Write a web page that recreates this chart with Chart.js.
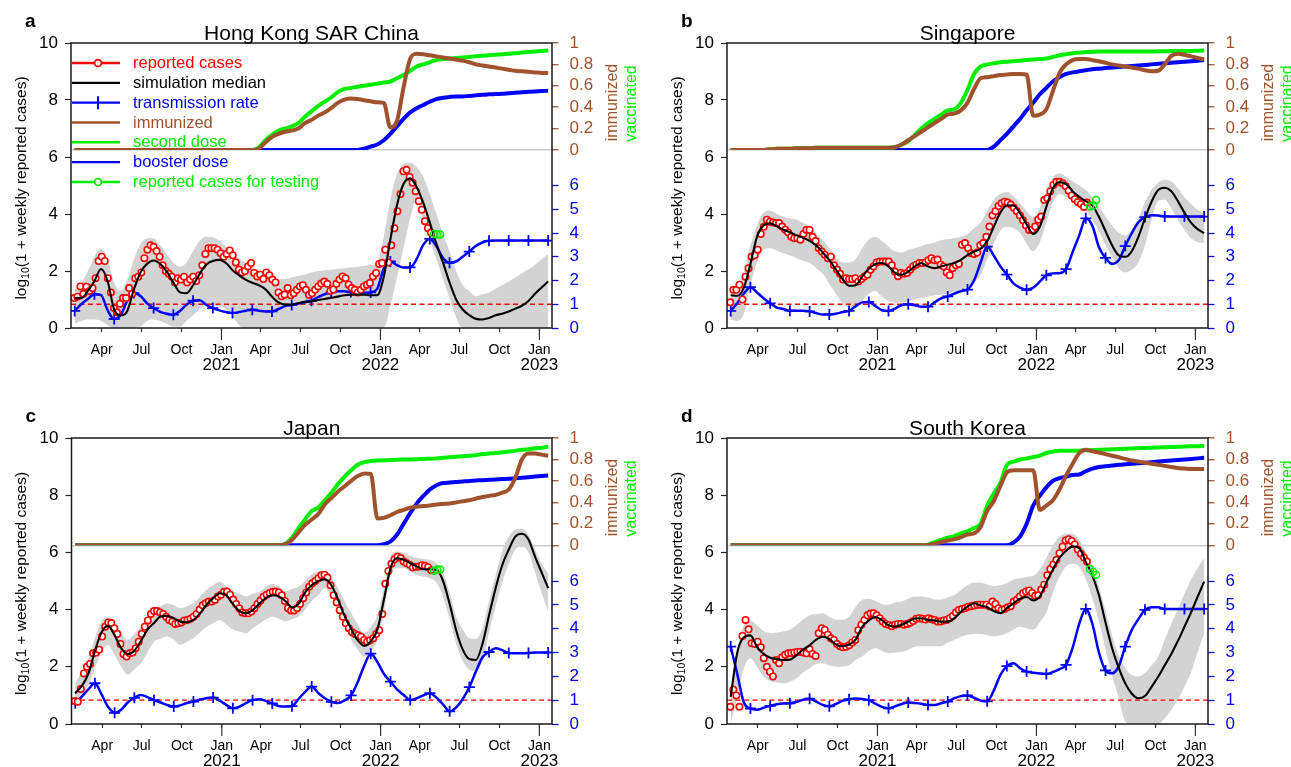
<!DOCTYPE html>
<html><head><meta charset="utf-8">
<script src="https://cdn.jsdelivr.net/npm/chart.js@4.4.1/dist/chart.umd.min.js"></script>
<style>
html,body{margin:0;padding:0;background:#fff;}
#wrap{position:relative;width:1291px;height:767px;overflow:hidden;background:#fff;}
canvas{position:absolute;}
</style></head><body>
<div id="wrap">
<canvas id="cA" width="645" height="395" style="left:0px;top:0px"></canvas>
<canvas id="cB" width="646" height="395" style="left:645px;top:0px"></canvas>
<canvas id="cC" width="645" height="372" style="left:0px;top:395px"></canvas>
<canvas id="cD" width="646" height="372" style="left:645px;top:395px"></canvas>
</div>
<script>
// ---------------- axis / time data ----------------
const xMinDay = 20.5, xMaxDay = 1125;               // days since 2020-01-01
const monthTickDays = [91,182,274,366,456,547,639,731,821,912,1004,1096];
const monthTickLabels = ['Apr','Jul','Oct','Jan','Apr','Jul','Oct','Jan','Apr','Jul','Oct','Jan'];
const yearTickDays = [366,731,1096];
const yearLabels = ['2021','2022','2023'];
const leftTicks = [0,2,4,6,8,10];
const immunizedTicks = [0,0.2,0.4,0.6,0.8,1];
const immunizedTickLabels = ['0','0.2','0.4','0.6','0.8','1'];
const rateTicks = [0,1,2,3,4,5,6];
const rateThreshold = 1;
const reportedStartDay = 28, reportedStepDays = 7;   // weekly reports
const modelStartDay = 29, modelStepDays = 15.1;      // model output grid
const panelTitles = ['Hong Kong SAR China','Singapore','Japan','South Korea'];
const panelLetters = ['a','b','c','d'];

// ---------------- Hong Kong ----------------
const hkReported = [1.05,1.1,1.46,1.2,1.45,1.3,1.4,1.75,2.35,2.5,
 2.35,1.75,1.25,0.7,0.55,0.85,1.05,1.05,1.4,1.2,
 1.75,1.8,1.95,2.45,2.75,2.9,2.85,2.7,2.5,2.2,
 2.0,1.9,1.8,1.6,1.75,1.7,1.8,1.6,1.7,1.8,
 1.65,1.85,2.2,2.6,2.8,2.8,2.8,2.75,2.62,2.5,
 2.6,2.72,2.55,2.3,2.05,1.95,2.0,2.16,2.28,1.93,
 1.81,1.87,1.72,1.95,1.85,1.7,1.6,1.25,1.11,1.17,
 1.4,1.15,1.22,1.34,1.46,1.5,1.34,1.17,1.22,1.34,
 1.46,1.56,1.63,1.55,1.3,1.35,1.55,1.7,1.81,1.75,
 1.52,1.4,1.34,1.25,1.34,1.46,1.52,1.58,1.81,1.93,
 2.25,2.28,2.75,2.3,2.9,3.5,4.1,4.7,5.5,5.55,
 5.3,5.1,4.8,4.45,4.15,3.75,3.5,3.35];
const hkTesting = [3.3,3.28,3.28];
const hkMedian = [1.05,1.05,1.3,1.65,2.07,1.65,0.65,0.45,0.6,1.35,
 1.95,2.25,2.37,2.25,1.98,1.6,1.25,1.22,1.5,1.9,
 2.22,2.35,2.39,2.28,2.03,1.85,1.7,1.59,1.5,1.36,
 1.1,0.9,0.82,0.82,0.87,0.92,0.93,0.98,1.02,1.06,
 1.1,1.15,1.17,1.17,1.17,1.15,1.15,1.8,3.1,4.3,
 5.05,5.25,4.95,4.4,3.7,2.95,2.3,1.6,1.0,0.65,
 0.45,0.32,0.3,0.35,0.45,0.5,0.58,0.68,0.78,0.95,
 1.2,1.42,1.63];
const hkLower = [0.15,0.25,0.3,0.3,0.25,0.1,0,0,0,0,
 0.05,0.25,0.3,0.25,0.15,0.05,0.05,0.25,0.45,0.65,
 0.8,0.8,0.75,0.65,0.4,0.1,0,0,0,0,
 0,0,0,0,0,0,0,0,0,0,
 0,0,0,0,0,0,0,0,0.78,1.76,
 2.8,3.83,4.5,3.77,3.08,2.42,1.73,1.04,0.38,0,
 0,0,0,0,0,0,0,0,0,0,
 0,0,0];
const hkUpper = [1.35,1.6,2.0,2.5,2.8,2.4,1.6,1.3,1.7,2.4,
 2.95,3.15,3.15,2.9,2.6,2.3,2.15,2.3,2.7,3.05,
 3.2,3.18,3.05,2.85,2.65,2.45,2.28,2.12,2.02,1.92,
 1.82,1.72,1.72,1.78,1.83,1.88,1.95,2.0,2.02,2.05,
 2.08,2.1,2.12,2.15,2.18,2.2,2.3,3.2,4.5,5.4,
 5.75,5.8,5.65,5.3,4.7,4.0,3.3,2.7,2.0,1.5,
 1.3,1.11,1.18,1.25,1.38,1.5,1.62,1.78,1.92,2.06,
 2.22,2.42,2.6];
const hkRate = [0.72,1.0,1.22,1.42,1.38,0.75,0.38,0.55,1.15,1.47,
 1.35,1.04,0.84,0.68,0.6,0.56,0.72,0.98,1.15,1.17,
 0.98,0.84,0.74,0.67,0.63,0.67,0.73,0.77,0.73,0.7,
 0.7,0.8,0.92,0.97,1.03,1.08,1.15,1.3,1.42,1.5,
 1.55,1.55,1.52,1.48,1.47,1.5,1.65,2.5,2.8,2.65,
 2.55,2.55,2.9,3.5,3.75,3.45,2.95,2.75,2.8,3.0,
 3.22,3.45,3.6,3.67,3.68,3.68,3.68,3.68,3.68,3.68,
 3.68,3.68,3.68];
const hkImmunized = [0,0,0,0,0,0,0,0,0,0, 0,0,0,0,0,0,0,0,0,0, 0,0,0,0,0,0,0,0,
 0.01,0.07,0.12,0.15,0.17,0.18,0.2,0.25,0.28,0.32,
 0.35,0.39,0.44,0.47,0.48,0.475,0.465,0.455,0.445,0.44,
 0.21,0.27,0.58,0.85,0.9,0.895,0.885,0.875,0.865,0.855,
 0.845,0.835,0.82,0.8,0.79,0.78,0.77,0.76,0.75,0.74,
 0.735,0.73,0.725,0.72,0.72];
const hkSecondDose = [0,0,0,0,0,0,0,0,0,0, 0,0,0,0,0,0,0,0,0,0, 0,0,0,0,0,0,0,0,
 0.02,0.09,0.14,0.18,0.2,0.22,0.25,0.31,0.36,0.41,
 0.45,0.49,0.54,0.57,0.58,0.59,0.6,0.61,0.62,0.63,
 0.64,0.67,0.7,0.74,0.78,0.8,0.82,0.84,0.85,0.855,
 0.86,0.865,0.87,0.875,0.88,0.885,0.89,0.895,0.9,0.905,
 0.91,0.915,0.92,0.925,0.93];
const hkBooster = [0,0,0,0,0,0,0,0,0,0, 0,0,0,0,0,0,0,0,0,0, 0,0,0,0,0,0,0,0,0,0,
 0,0,0,0,0,0,0,0,0,0, 0,0,0,0,
 0.01,0.03,0.05,0.09,0.15,0.22,0.29,0.35,0.39,0.42,
 0.45,0.475,0.487,0.495,0.5,0.5,0.505,0.51,0.515,0.52,
 0.522,0.525,0.53,0.535,0.54,0.543,0.546,0.55,0.553];

// ---------------- Singapore ----------------
const sgReported = [0.9,1.34,1.34,1.52,1.0,1.8,2.1,2.5,2.55,2.75,
 3.3,3.55,3.8,3.73,3.7,3.68,3.68,3.56,3.45,3.35,
 3.2,3.15,3.15,3.1,3.3,3.44,3.44,3.2,3.05,2.8,
 2.68,2.57,2.45,2.5,2.2,2.05,1.9,1.7,1.75,1.72,
 1.72,1.75,1.63,1.72,1.81,1.87,2.04,2.16,2.3,2.33,
 2.33,2.33,2.33,2.2,1.98,1.82,1.93,1.9,1.93,2.04,
 2.16,2.22,2.28,2.28,2.3,2.38,2.45,2.38,2.4,2.22,
 2.16,1.95,1.85,2.1,2.2,2.25,2.92,2.98,2.8,2.62,
 2.6,2.65,2.9,2.98,3.2,3.56,3.95,4.1,4.28,4.38,
 4.43,4.4,4.33,4.22,4.1,3.95,3.78,3.6,3.44,3.45,
 3.56,3.8,3.91,4.49,4.55,4.8,5.02,5.13,5.13,5.08,
 4.98,4.82,4.65,4.52,4.42,4.35,4.25,4.4];
const sgTesting = [4.26,4.3,4.49];
const sgMedian = [1.15,1.13,1.42,2.25,3.2,3.6,3.67,3.57,3.45,3.36,
 3.25,3.17,3.06,2.9,2.65,2.38,2.05,1.72,1.48,1.5,
 1.8,2.08,2.24,2.28,2.16,1.93,1.87,1.98,2.16,2.28,
 2.16,2.1,2.16,2.22,2.28,2.39,2.56,2.68,2.78,3.05,
 3.55,4.05,4.3,4.3,4.03,3.64,3.3,3.55,4.25,4.9,
 5.12,5.05,4.8,4.6,4.45,4.3,3.9,3.4,2.9,2.55,
 2.5,2.7,3.2,3.85,4.43,4.84,4.92,4.8,4.45,4.05,
 3.7,3.47,3.33];
const sgLower = [0.3,0.25,0.5,1.5,2.3,2.75,2.8,2.72,2.62,2.55,
 2.45,2.35,2.28,2.1,1.9,1.55,1.2,0.88,0.72,0.7,
 0.95,1.2,1.3,1.1,0.95,0.88,0.9,0.93,1.0,1.05,
 1.1,1.15,1.17,1.2,1.28,1.35,1.45,1.6,1.85,2.4,
 2.95,3.4,3.55,3.5,3.33,2.95,2.7,3.0,3.7,4.4,
 4.7,4.6,4.5,4.3,4.1,3.8,3.4,2.9,2.5,2.1,
 1.95,2.05,2.3,2.9,3.8,4.45,4.5,4.2,3.8,3.45,
 3.15,3.02,2.98];
const sgUpper = [1.4,1.55,2.0,2.9,3.6,4.05,4.12,4.0,3.9,3.85,
 3.8,3.68,3.55,3.3,3.08,2.8,2.5,2.3,2.3,2.42,
 2.8,3.1,3.2,3.05,2.85,2.68,2.65,2.75,2.8,2.88,
 2.95,3.0,3.08,3.12,3.15,3.2,3.3,3.5,3.7,4.1,
 4.5,4.7,4.78,4.62,4.38,4.1,3.9,4.2,4.8,5.28,
 5.43,5.3,5.15,5.0,4.85,4.6,4.28,3.9,3.6,3.35,
 3.25,3.45,3.85,4.4,4.85,5.1,5.2,5.15,4.9,4.6,
 4.35,4.15,4.03];
const sgRate = [0.72,1.05,1.45,1.72,1.5,1.25,1.04,0.86,0.8,0.73,
 0.73,0.73,0.7,0.63,0.57,0.57,0.6,0.67,0.72,0.92,
 1.08,1.1,0.92,0.75,0.72,0.82,0.97,1.0,0.96,0.9,
 0.9,1.08,1.25,1.33,1.45,1.55,1.62,2.0,2.75,3.43,
 3.05,2.6,2.25,1.88,1.7,1.61,1.7,1.95,2.22,2.3,
 2.31,2.48,3.2,3.9,4.62,4.3,3.4,2.95,2.7,2.85,
 3.45,4.0,4.45,4.67,4.75,4.74,4.7,4.69,4.69,4.69,
 4.69,4.69,4.69];
const sgImmunized = [0,0,0,0,0,0,0.005,0.01,0.01,0.01,
 0.015,0.015,0.015,0.02,0.02,0.02,0.02,0.02,0.02,0.02,
 0.02,0.02,0.02,0.02,0.02,0.025,0.05,0.09,0.13,0.17,
 0.21,0.25,0.29,0.33,0.34,0.37,0.44,0.57,0.67,0.68,
 0.69,0.7,0.705,0.71,0.71,0.705,0.32,0.33,0.38,0.55,
 0.72,0.8,0.84,0.85,0.85,0.84,0.83,0.815,0.8,0.79,
 0.78,0.77,0.76,0.745,0.735,0.74,0.8,0.88,0.9,0.89,
 0.875,0.86,0.845];
const sgSecondDose = [0,0,0,0,0,0,0.005,0.01,0.01,0.01,
 0.015,0.015,0.015,0.02,0.02,0.02,0.02,0.02,0.02,0.02,
 0.02,0.02,0.02,0.02,0.02,0.025,0.05,0.08,0.14,0.2,
 0.25,0.29,0.33,0.37,0.38,0.44,0.56,0.71,0.78,0.8,
 0.81,0.82,0.825,0.83,0.835,0.84,0.845,0.85,0.855,0.87,
 0.885,0.895,0.905,0.91,0.915,0.918,0.92,0.92,0.92,0.92,
 0.92,0.92,0.92,0.92,0.92,0.922,0.922,0.924,0.924,0.926,
 0.926,0.928,0.93];
const sgBooster = [0,0,0,0,0,0,0,0,0,0, 0,0,0,0,0,0,0,0,0,0, 0,0,0,0,0,0,0,0,0,0,
 0,0,0,0,0,0,0,0,0,0,
 0.03,0.09,0.15,0.22,0.29,0.37,0.44,0.52,0.58,0.64,
 0.68,0.71,0.725,0.735,0.745,0.755,0.76,0.765,0.77,0.775,
 0.78,0.785,0.79,0.795,0.8,0.805,0.81,0.815,0.82,0.825,
 0.83,0.835,0.84];

// ---------------- Japan ----------------
const jpReported = [0.8,0.78,1.22,1.77,2.0,2.1,2.47,2.5,2.6,3.06,
 3.4,3.55,3.53,3.35,3.15,2.8,2.45,2.36,2.47,2.5,
 2.65,2.88,3.15,3.4,3.62,3.85,3.95,3.95,3.9,3.85,
 3.75,3.64,3.58,3.5,3.52,3.55,3.62,3.64,3.68,3.75,
 3.85,4.0,4.15,4.22,4.28,4.28,4.34,4.46,4.52,4.62,
 4.63,4.52,4.35,4.2,4.05,3.9,3.87,3.87,3.93,4.05,
 4.2,4.32,4.45,4.52,4.58,4.62,4.63,4.6,4.5,4.3,
 4.05,3.97,3.97,4.05,4.2,4.4,4.6,4.8,4.92,5.0,
 5.1,5.2,5.22,5.12,4.85,4.5,4.25,3.98,3.75,3.52,
 3.35,3.22,3.15,3.1,3.05,2.94,2.88,2.93,3.0,3.15,
 3.28,3.85,4.9,5.35,5.6,5.76,5.85,5.8,5.68,5.62,
 5.57,5.47,5.5,5.51,5.55,5.53,5.48,5.38];
const jpTesting = [5.36,5.4,5.4];
const jpMedian = [1.07,1.33,1.75,2.55,3.2,3.43,3.1,2.65,2.44,2.56,
 2.9,3.3,3.53,3.76,3.78,3.7,3.58,3.56,3.64,3.87,
 4.17,4.4,4.57,4.5,4.2,3.95,3.87,3.98,4.2,4.4,
 4.5,4.46,4.3,4.07,4.2,4.6,4.85,5.0,5.06,4.85,
 4.36,3.78,3.33,2.93,2.73,2.9,3.3,4.35,5.45,5.8,
 5.74,5.62,5.51,5.41,5.41,5.39,5.0,4.2,3.27,2.6,
 2.27,2.24,2.8,3.8,4.75,5.55,6.1,6.55,6.65,6.45,
 5.85,5.3,4.75];
const jpLower = [0.8,1.05,1.35,1.95,2.5,2.75,2.4,2.0,1.72,1.9,
 2.12,2.5,2.88,2.98,3.06,2.95,2.77,2.88,3.0,3.2,
 3.4,3.52,3.64,3.48,3.3,3.23,3.17,3.35,3.5,3.65,
 3.75,3.68,3.58,3.66,3.76,4.0,4.3,4.5,4.75,4.45,
 4.0,3.45,2.95,2.6,2.36,2.55,2.95,3.9,5.2,5.45,
 5.45,5.35,5.22,5.15,5.1,4.95,4.45,3.65,2.8,2.2,
 1.9,1.85,2.2,3.2,4.1,4.95,5.6,6.1,6.2,6.0,
 5.3,4.6,3.9];
const jpUpper = [1.42,1.85,2.3,3.0,3.6,3.74,3.45,3.2,2.94,3.15,
 3.4,3.7,3.99,4.12,4.22,4.15,4.05,4.12,4.22,4.45,
 4.69,4.85,4.98,4.82,4.64,4.55,4.46,4.55,4.62,4.78,
 4.9,4.78,4.64,4.72,4.8,5.0,5.24,5.33,5.35,5.1,
 4.75,4.3,3.87,3.5,3.17,3.4,3.8,4.8,5.85,6.03,
 5.98,5.88,5.8,5.77,5.74,5.62,5.3,4.6,3.75,3.3,
 3.0,2.98,3.35,4.3,5.2,6.05,6.55,6.8,6.83,6.6,
 6.1,5.6,5.27];
const jpRate = [0.87,1.15,1.45,1.71,1.25,0.72,0.47,0.6,0.9,1.1,
 1.22,1.13,1.0,0.9,0.8,0.73,0.78,0.88,0.94,1.03,
 1.08,1.11,0.98,0.8,0.66,0.73,0.88,1.0,1.04,0.97,
 0.86,0.75,0.73,0.75,1.05,1.35,1.57,1.3,1.08,0.93,
 0.88,0.99,1.2,1.75,2.45,2.95,2.6,2.1,1.78,1.45,
 1.22,1.01,1.08,1.2,1.29,1.1,0.82,0.53,0.7,1.05,
 1.55,2.2,2.8,3.02,3.18,3.1,2.98,2.97,2.97,2.98,
 3.0,3.0,3.0];
const jpImmunized = [0,0,0,0,0,0,0,0,0,0, 0,0,0,0,0,0,0,0,0,0, 0,0,0,0,0,0,0,0,0,0, 0,0,
 0.01,0.05,0.12,0.19,0.24,0.29,0.38,0.44,0.5,0.55,
 0.6,0.645,0.67,0.665,0.25,0.255,0.28,0.31,0.33,0.35,
 0.36,0.365,0.37,0.38,0.385,0.39,0.4,0.41,0.42,0.435,
 0.45,0.46,0.47,0.49,0.52,0.63,0.8,0.855,0.855,0.845,
 0.835];
const jpSecondDose = [0,0,0,0,0,0,0,0,0,0, 0,0,0,0,0,0,0,0,0,0, 0,0,0,0,0,0,0,0,0,0, 0,0,
 0.015,0.07,0.16,0.24,0.32,0.35,0.42,0.49,0.57,0.64,
 0.7,0.75,0.775,0.785,0.79,0.792,0.795,0.797,0.8,0.8,
 0.802,0.805,0.807,0.81,0.815,0.82,0.825,0.83,0.835,0.84,
 0.85,0.855,0.86,0.867,0.875,0.88,0.89,0.895,0.905,0.91,
 0.92];
const jpBooster = [0,0,0,0,0,0,0,0,0,0, 0,0,0,0,0,0,0,0,0,0, 0,0,0,0,0,0,0,0,0,0,
 0,0,0,0,0,0,0,0,0,0, 0,0,0,0,0,0,0,
 0.01,0.035,0.1,0.2,0.3,0.39,0.46,0.52,0.56,0.58,
 0.585,0.59,0.595,0.6,0.603,0.607,0.61,0.613,0.617,0.62,
 0.625,0.63,0.635,0.64,0.645,0.65];

// ---------------- South Korea ----------------
const krReported = [0.6,1.2,1.0,0.6,3.08,3.64,3.31,2.82,2.8,2.88,
 2.68,2.3,2.0,1.83,1.66,2.24,2.12,2.33,2.42,2.47,
 2.48,2.5,2.52,2.53,2.5,2.47,2.62,2.45,2.38,3.17,
 3.35,3.29,3.12,3.0,2.94,2.8,2.72,2.68,2.7,2.75,
 2.85,2.94,3.28,3.47,3.64,3.8,3.86,3.87,3.8,3.7,
 3.58,3.5,3.46,3.42,3.47,3.5,3.5,3.47,3.5,3.54,
 3.6,3.68,3.7,3.68,3.65,3.7,3.66,3.64,3.58,3.58,
 3.62,3.64,3.7,3.78,3.9,3.99,4.02,4.05,4.1,4.12,
 4.14,4.17,4.17,4.17,4.17,4.11,4.28,4.2,4.05,3.99,
 4.02,4.08,4.12,4.28,4.35,4.46,4.57,4.63,4.67,4.58,
 4.48,4.5,4.7,4.87,5.2,5.42,5.58,5.74,5.97,6.2,
 6.42,6.46,6.4,6.28,6.1,5.95,5.82,5.68];
const krTesting = [5.42,5.32,5.22];
const krMedian = [0.95,2.5,3.03,3.1,2.7,2.45,2.32,2.27,2.24,2.25,
 2.4,2.6,2.75,2.95,3.05,2.97,2.78,2.72,2.78,2.95,
 3.4,3.62,3.74,3.63,3.45,3.41,3.47,3.58,3.69,3.7,
 3.64,3.62,3.58,3.58,3.7,3.92,4.1,4.22,4.14,4.08,
 3.95,3.88,4.05,4.22,4.38,4.44,4.32,4.45,4.95,5.4,
 5.82,6.05,6.21,6.15,5.67,5.2,4.5,3.55,2.65,1.97,
 1.42,1.06,0.9,0.98,1.3,1.65,2.05,2.45,2.9,3.4,
 3.9,4.45,4.98];
const krLower = [0,0.95,1.95,2.3,2.0,1.65,1.5,1.45,1.42,1.48,
 1.6,1.8,1.95,2.1,2.12,2.05,2.0,2.0,2.05,2.25,
 2.36,2.55,2.65,2.55,2.47,2.5,2.53,2.6,2.7,2.72,
 2.72,2.72,2.72,2.85,2.95,3.05,3.12,3.15,3.15,3.1,
 3.06,3.1,3.17,3.3,3.4,3.35,3.3,3.55,3.9,4.6,
 5.15,5.5,5.6,5.5,5.05,4.4,3.6,2.6,1.7,0.9,
 0.1,0,0,0,0,0,0.2,0.5,0.85,1.3,
 1.8,2.5,3.17];
const krUpper = [0.9,2.6,3.45,3.62,3.45,3.25,3.18,3.2,3.23,3.3,
 3.45,3.65,3.8,3.85,3.87,3.75,3.65,3.65,3.75,4.1,
 4.34,4.38,4.3,4.2,4.17,4.25,4.28,4.38,4.46,4.46,
 4.42,4.36,4.35,4.42,4.5,4.68,4.85,4.95,4.95,4.88,
 4.82,4.85,4.92,5.05,5.1,5.15,5.18,5.4,5.8,6.25,
 6.55,6.65,6.65,6.45,6.0,5.5,4.8,3.95,3.1,2.4,
 1.95,1.72,1.66,1.78,2.05,2.35,2.95,3.5,4.0,4.55,
 5.05,5.45,5.8];
const krRate = [3.25,2.1,0.9,0.65,0.6,0.68,0.76,0.83,0.86,0.87,
 0.93,1.02,1.06,0.94,0.8,0.74,0.84,0.97,1.04,1.07,
 1.05,1.0,0.85,0.72,0.66,0.74,0.84,0.9,0.88,0.85,
 0.8,0.8,0.87,0.94,1.08,1.17,1.2,1.1,0.98,0.95,
 1.4,2.05,2.43,2.55,2.34,2.2,2.15,2.12,2.1,2.18,
 2.3,2.48,3.2,4.2,4.83,4.2,3.0,2.25,2.13,2.42,
 3.25,3.95,4.4,4.79,4.9,4.9,4.83,4.83,4.83,4.83,
 4.83,4.83,4.83];
const krImmunized = [0,0,0,0,0,0,0,0,0,0, 0,0,0,0,0,0,0,0,0,0, 0,0,0,0,0,0,0,0,0,0,
 0.003,0.015,0.03,0.045,0.055,0.075,0.1,0.11,0.17,0.32,
 0.41,0.55,0.68,0.7,0.7,0.7,0.7,0.33,0.37,0.42,
 0.52,0.65,0.76,0.86,0.89,0.875,0.865,0.85,0.835,0.82,
 0.805,0.79,0.78,0.77,0.76,0.75,0.74,0.73,0.72,0.715,
 0.71,0.71,0.71];
const krSecondDose = [0,0,0,0,0,0,0,0,0,0, 0,0,0,0,0,0,0,0,0,0, 0,0,0,0,0,0,0,0,0,0,
 0.005,0.03,0.05,0.07,0.085,0.11,0.13,0.16,0.2,0.37,
 0.48,0.58,0.75,0.78,0.8,0.81,0.82,0.835,0.86,0.875,
 0.88,0.88,0.88,0.882,0.885,0.887,0.89,0.892,0.895,0.897,
 0.9,0.902,0.905,0.907,0.91,0.912,0.914,0.916,0.918,0.92,
 0.922,0.924,0.926];
const krBooster = [0,0,0,0,0,0,0,0,0,0, 0,0,0,0,0,0,0,0,0,0, 0,0,0,0,0,0,0,0,0,0,
 0,0,0,0,0,0,0,0,0,0, 0,0,0,
 0.025,0.08,0.2,0.37,0.46,0.54,0.6,0.625,0.64,0.655,
 0.66,0.69,0.715,0.73,0.737,0.743,0.75,0.755,0.76,0.765,
 0.77,0.775,0.78,0.785,0.79,0.795,0.8,0.805,0.81,0.815];

// ---------------- styling ----------------
const FONT = "'Liberation Sans', Arial, Helvetica, sans-serif";
const RED = '#ff0000', BLUE = '#0000ff', GREEN = '#00ee00', SIENNA = '#a0522d', BAND = '#d3d3d3';
Chart.defaults.font.family = FONT;

const legendEntries = [
  {label:'reported cases', color:RED, marker:'circle'},
  {label:'simulation median', color:'#000000'},
  {label:'transmission rate', color:BLUE, marker:'cross'},
  {label:'immunized', color:SIENNA},
  {label:'second dose', color:GREEN},
  {label:'booster dose', color:BLUE},
  {label:'reported cases for testing', color:GREEN, marker:'circle'}
];

function modelSeries(values){ return values.map((v,i)=>({x: modelStartDay + modelStepDays*i, y: v})); }
function weeklySeries(values, offset){ return values.map((v,k)=>({x: reportedStartDay + reportedStepDays*(k+offset), y: v})); }

const decorPlugin = {
  id: 'decor',
  afterDraw(chart, args, o) {
    const {ctx, chartArea: a, scales} = chart;
    const xs = scales.x;
    ctx.save();
    // frame
    ctx.strokeStyle = '#1a1a1a'; ctx.lineWidth = 1.5;
    ctx.strokeRect(a.left, a.top, a.right - a.left, a.bottom - a.top);
    // long January ticks + year labels
    ctx.strokeStyle = '#333'; ctx.lineWidth = 1.2;
    yearTickDays.forEach(d => {
      const px = xs.getPixelForValue(d);
      ctx.beginPath(); ctx.moveTo(px, a.bottom); ctx.lineTo(px, a.bottom + 12); ctx.stroke();
    });
    ctx.fillStyle = '#000'; ctx.font = '17px ' + FONT; ctx.textAlign = 'center'; ctx.textBaseline = 'alphabetic';
    yearTickDays.forEach((d, i) => ctx.fillText(yearLabels[i], xs.getPixelForValue(d), a.bottom + 42.4));
    // title
    ctx.font = '21px ' + FONT;
    ctx.fillText(o.title, (a.left + a.right) / 2, a.top - 3.5);
    // panel letter
    ctx.font = 'bold 19px ' + FONT; ctx.textAlign = 'left';
    ctx.fillText(o.letter, a.left - 46, a.top - 16);
    // left axis title with subscript
    ctx.save();
    ctx.translate(a.left - 51, (a.top + a.bottom) / 2 + 2.5);
    ctx.rotate(-Math.PI / 2);
    const p1 = 'log', p2 = '10', p3 = '(1 + weekly reported cases)';
    ctx.font = '15.5px ' + FONT; const w1 = ctx.measureText(p1).width, w3 = ctx.measureText(p3).width;
    ctx.font = '10.5px ' + FONT; const w2 = ctx.measureText(p2).width;
    let x0 = -(w1 + w2 + w3) / 2;
    ctx.textAlign = 'left'; ctx.textBaseline = 'alphabetic'; ctx.fillStyle = '#000';
    ctx.font = '15.5px ' + FONT; ctx.fillText(p1, x0, 5.5); x0 += w1;
    ctx.font = '10.5px ' + FONT; ctx.fillText(p2, x0, 8.5); x0 += w2;
    ctx.font = '15.5px ' + FONT; ctx.fillText(p3, x0, 5.5);
    ctx.restore();
    // right axis titles
    [['immunized', SIENNA, 60.5, 59.5], ['vaccinated', GREEN, 79.5, 60.5]].forEach(([t, c, dx, dy]) => {
      ctx.save(); ctx.translate(a.right + dx, a.top + dy); ctx.rotate(-Math.PI / 2);
      ctx.fillStyle = c; ctx.font = '16px ' + FONT; ctx.textAlign = 'center'; ctx.textBaseline = 'middle';
      ctx.fillText(t, 0, 0); ctx.restore();
    });
    // legend
    if (o.legend) {
      legendEntries.forEach((e, j) => {
        const y = a.top + 20 + 19.83 * j;
        ctx.strokeStyle = e.color; ctx.lineWidth = 2.4;
        ctx.beginPath(); ctx.moveTo(a.left + 1, y); ctx.lineTo(a.left + 49, y); ctx.stroke();
        const mx = a.left + 27;
        if (e.marker === 'circle') {
          ctx.lineWidth = 1.7; ctx.fillStyle = '#fff';
          ctx.beginPath(); ctx.arc(mx, y, 3.4, 0, Math.PI * 2); ctx.fill(); ctx.stroke();
        } else if (e.marker === 'cross') {
          ctx.lineWidth = 2;
          ctx.beginPath(); ctx.moveTo(mx, y - 6.5); ctx.lineTo(mx, y + 6.5); ctx.stroke();
        }
        ctx.fillStyle = e.color; ctx.font = '16.5px ' + FONT; ctx.textAlign = 'left'; ctx.textBaseline = 'middle';
        ctx.fillText(e.label, a.left + 62, y + 0.5);
      });
    }
    ctx.restore();
  }
};

function buildPanel(id, box, s, deco) {
  const datasets = [
    {label:'band lower', data: modelSeries(s.lower), yAxisID:'y', borderWidth:0, borderColor:'rgba(0,0,0,0)', pointRadius:0, fill:false, cubicInterpolationMode:'monotone', order:100},
    {label:'band upper', data: modelSeries(s.upper), yAxisID:'y', borderWidth:0, borderColor:'rgba(0,0,0,0)', pointRadius:0, fill:'-1', backgroundColor:BAND, cubicInterpolationMode:'monotone', order:99},
    {label:'threshold', data:[{x:xMinDay, y:rateThreshold},{x:xMaxDay, y:rateThreshold}], yAxisID:'yR', borderColor:RED, borderWidth:1.3, borderDash:[5,3.5], pointRadius:0, fill:false, order:98},
    {label:'booster dose', data: modelSeries(s.booster), yAxisID:'yU', borderColor:BLUE, borderWidth:4, pointRadius:0, fill:false, cubicInterpolationMode:'monotone', order:97},
    {label:'second dose', data: modelSeries(s.second), yAxisID:'yU', borderColor:GREEN, borderWidth:4, pointRadius:0, fill:false, cubicInterpolationMode:'monotone', order:96},
    {label:'immunized', data: modelSeries(s.immunized), yAxisID:'yU', borderColor:SIENNA, borderWidth:4, pointRadius:0, fill:false, cubicInterpolationMode:'monotone', order:95},
    {label:'transmission rate', data: modelSeries(s.rate), yAxisID:'yR', borderColor:BLUE, borderWidth:2.5, fill:false, cubicInterpolationMode:'monotone',
      pointStyle:'cross', pointRadius: c => (c.dataIndex % 3 === 0 ? 5.5 : 0), pointBorderWidth:1.8, pointBorderColor:BLUE, pointBackgroundColor:BLUE, order:94},
    {label:'reported cases', data: weeklySeries(s.reported, 0), yAxisID:'y', showLine:false, pointStyle:'circle', pointRadius:3.2, pointBorderWidth:1.6, pointBorderColor:RED, pointBackgroundColor:'#ffffff', order:93},
    {label:'simulation median', data: modelSeries(s.median), yAxisID:'y', borderColor:'#000000', borderWidth:2.1, pointRadius:0, fill:false, cubicInterpolationMode:'monotone', order:92},
    {label:'reported cases for testing', data: weeklySeries(s.testing, s.reported.length), yAxisID:'y', showLine:false, pointStyle:'circle', pointRadius:3.5, pointBorderWidth:1.5, pointBorderColor:GREEN, pointBackgroundColor:'rgba(0,0,0,0)', order:91}
  ];
  return new Chart(document.getElementById(id), {
    type: 'line',
    data: {datasets},
    options: {
      responsive:false, animation:false, events:[], devicePixelRatio:1,
      layout:{padding:{top:box.top, left:0, right:0, bottom:0}},
      plugins:{legend:{display:false}, tooltip:{enabled:false}, decor:deco},
      scales:{
        x:{type:'linear', position:'bottom', min:xMinDay, max:xMaxDay,
           afterBuildTicks: sc => { sc.ticks = monthTickDays.map(v => ({value:v})); },
           afterFit: sc => { sc.height = box.bottom; },
           ticks:{autoSkip:false, maxRotation:0, minRotation:0, padding:10, color:'#000', font:{size:14}, callback:(v,i) => monthTickLabels[i]},
           grid:{drawOnChartArea:false, tickLength:4, color:'#333', tickColor:'#333', tickWidth:1.2},
           border:{display:false}},
        y:{type:'linear', position:'left', min:0, max:10,
           afterBuildTicks: sc => { sc.ticks = leftTicks.map(v => ({value:v})); },
           afterFit: sc => { sc.width = box.left; },
           ticks:{autoSkip:false, padding:7, color:'#000', font:{size:17}},
           grid:{drawOnChartArea:false, tickLength:6, tickColor:'#222', tickWidth:1.2},
           border:{display:false}},
        yU:{type:'linear', position:'right', stack:'right', stackWeight:3.75, min:0, max:1,
           afterBuildTicks: sc => { sc.ticks = immunizedTicks.map(v => ({value:v})); },
           afterFit: sc => { sc.width = box.right; },
           ticks:{autoSkip:false, padding:11, color:SIENNA, font:{size:17}, callback:(v,i) => immunizedTickLabels[i]},
           grid:{drawOnChartArea:true, color: c => (c.tick && c.tick.value === 0 ? '#cccccc' : 'rgba(0,0,0,0)'), lineWidth:1.5,
                 tickLength:6.5, tickColor:SIENNA, tickWidth:1.3},
           border:{display:false}},
        yR:{type:'linear', position:'right', stack:'right', stackWeight:6.25, min:0, max:7.5,
           afterBuildTicks: sc => { sc.ticks = rateTicks.map(v => ({value:v})); },
           afterFit: sc => { sc.width = box.right; },
           ticks:{autoSkip:false, padding:11, color:BLUE, font:{size:17}},
           grid:{drawOnChartArea:false, tickLength:6.5, tickColor:BLUE, tickWidth:1.3},
           border:{display:false}}
      }
    },
    plugins:[decorPlugin]
  });
}

buildPanel('cA', {left:71, right:93, top:43, bottom:67},
  {reported:hkReported, testing:hkTesting, median:hkMedian, lower:hkLower, upper:hkUpper, rate:hkRate, immunized:hkImmunized, second:hkSecondDose, booster:hkBooster},
  {title:panelTitles[0], letter:panelLetters[0], legend:true});
buildPanel('cB', {left:82, right:83, top:43, bottom:67},
  {reported:sgReported, testing:sgTesting, median:sgMedian, lower:sgLower, upper:sgUpper, rate:sgRate, immunized:sgImmunized, second:sgSecondDose, booster:sgBooster},
  {title:panelTitles[1], letter:panelLetters[1], legend:false});
buildPanel('cC', {left:71.5, right:93, top:43, bottom:43},
  {reported:jpReported, testing:jpTesting, median:jpMedian, lower:jpLower, upper:jpUpper, rate:jpRate, immunized:jpImmunized, second:jpSecondDose, booster:jpBooster},
  {title:panelTitles[2], letter:panelLetters[2], legend:false});
buildPanel('cD', {left:82, right:83, top:43, bottom:43},
  {reported:krReported, testing:krTesting, median:krMedian, lower:krLower, upper:krUpper, rate:krRate, immunized:krImmunized, second:krSecondDose, booster:krBooster},
  {title:panelTitles[3], letter:panelLetters[3], legend:false});
</script>
</body></html>
